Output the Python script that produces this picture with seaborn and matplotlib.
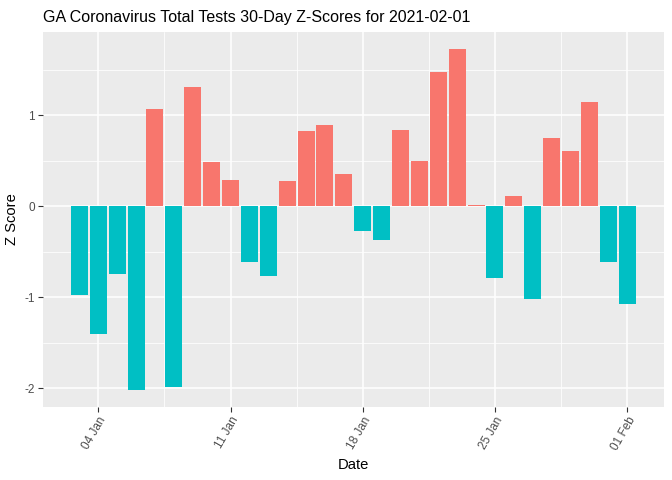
import pandas as pd
import matplotlib.pyplot as plt
import seaborn as sns

dates = pd.date_range("2021-01-03", "2021-02-01", freq="D")
zScores = [
  -0.98, -1.40, -0.75, -2.02, 1.07, -1.985, 1.31, 0.485, 0.287, -0.618,
  -0.77, 0.276, 0.827, 0.893, 0.353, -0.27, -0.37, 0.838, 0.496, 1.478,
  1.73, 0.01, -0.79, 0.11, -1.02, 0.75, 0.607, 1.147, -0.61, -1.07
]
tickDates = ["04 Jan", "11 Jan", "18 Jan", "25 Jan", "01 Feb"]

df = pd.DataFrame({"date": dates.strftime("%Y-%m-%d"), "z": zScores})
df["sign"] = df["z"].apply(lambda v: "pos" if v >= 0 else "neg")

sns.set_theme(style="darkgrid", rc={
  "axes.facecolor": "#EBEBEB",
  "grid.color": "white",
})
plt.rcParams["font.family"] = ["Liberation Sans", "DejaVu Sans"]

fig, ax = plt.subplots(figsize=(6.72, 4.8), dpi=100)
fig.subplots_adjust(left=0.0635, right=0.988, top=0.934, bottom=0.152)

sns.barplot(
  data=df,
  x="date",
  y="z",
  hue="sign",
  palette={"pos": "#F8766D", "neg": "#00BFC4"},
  saturation=1,
  dodge=False,
  width=0.9,
  linewidth=0,
  legend=False,
  ax=ax
)

# ggplot-like expansion
n = len(df)
lo, hi = -0.45, n - 1 + 0.45
pad = 0.05 * (hi - lo)
ax.set_xlim(lo - pad, hi + pad)
ymin, ymax = min(zScores), max(zScores)
ypad = 0.05 * (ymax - ymin)
ax.set_ylim(ymin - ypad, ymax + ypad)

tickIdx = [list(dates.strftime("%d %b")).index(t) for t in tickDates]
ax.set_xticks(tickIdx)
ax.set_xticklabels(tickDates, rotation=60, ha="right", va="top",
                   rotation_mode="anchor")
ax.set_xticks([(a + b) / 2 for a, b in zip(tickIdx[:-1], tickIdx[1:])], minor=True)
ax.set_yticks([-2, -1, 0, 1])
ax.set_yticklabels(["-2", "-1", "0", "1"])
ax.set_yticks([-1.5, -0.5, 0.5, 1.5], minor=True)

ax.grid(which="major", color="white", linewidth=1.1)
ax.grid(which="minor", color="white", linewidth=0.55)
ax.set_axisbelow(True)
for s in ax.spines.values():
  s.set_visible(False)

ax.tick_params(axis="both", which="major", length=3.5, width=0.8,
               color="#333333", labelcolor="#4D4D4D", labelsize=8.5, pad=2)
ax.tick_params(axis="both", which="minor", length=0)
ax.tick_params(axis="both", which="both", bottom=True, left=True)

ax.set_xlabel("Date", fontsize=10.6, color="black", labelpad=4)
ax.set_ylabel("Z Score", fontsize=10.6, color="black", labelpad=4)
ax.set_title("GA Coronavirus Total Tests 30-Day Z-Scores for 2021-02-01",
             fontsize=11.5, loc="left", color="black", pad=7)

fig.savefig("out.png", dpi=100)
